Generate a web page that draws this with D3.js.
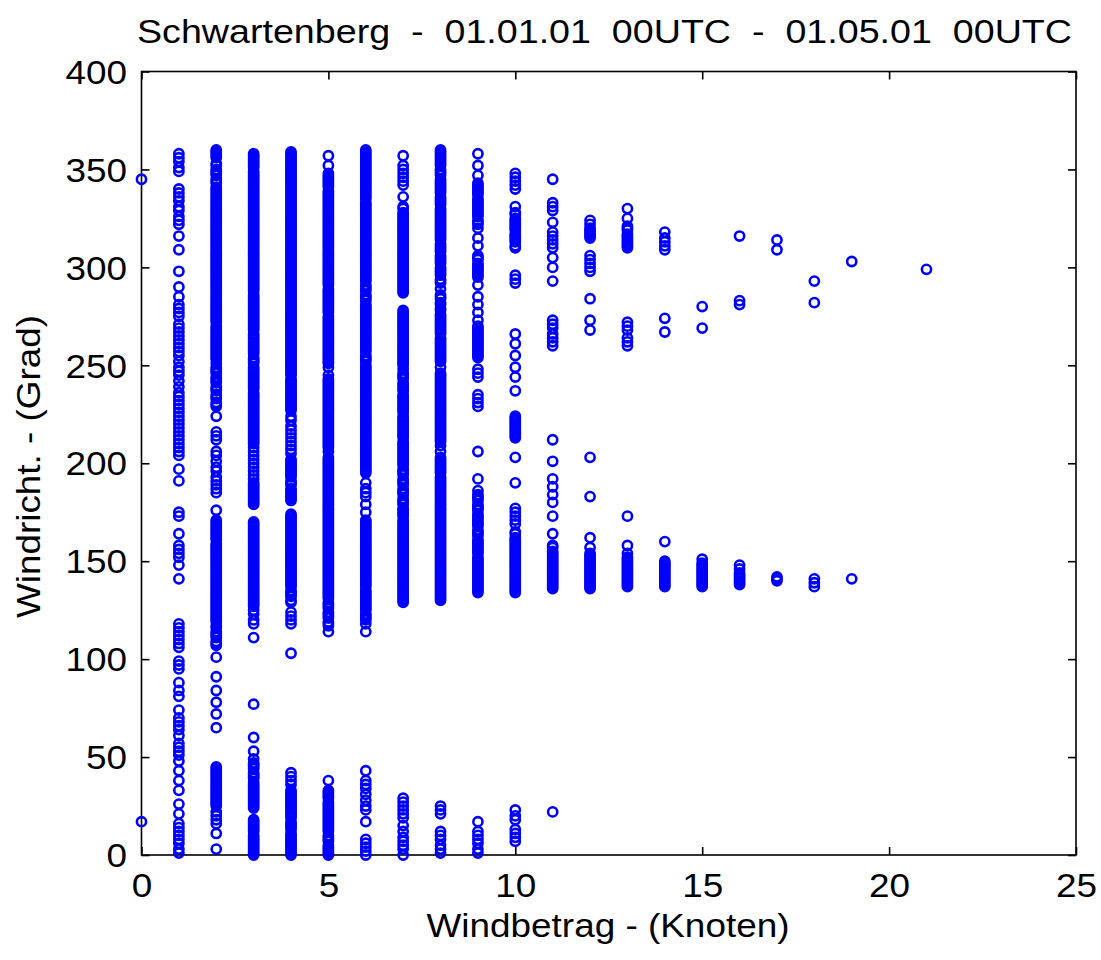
<!DOCTYPE html>
<html><head><meta charset="utf-8">
<script src="https://cdn.jsdelivr.net/npm/d3@7"></script>
<style>
html,body{margin:0;padding:0;background:#fff;}
svg{display:block;}
text{font-family:"Liberation Sans",Arial,Helvetica,sans-serif;fill:#000;}
</style>
</head><body>
<svg id="chart" width="1101" height="960"></svg>
<script>
const titleText = "Schwartenberg  -  01.01.01  00UTC  -  01.05.01  00UTC";
const xLabelText = "Windbetrag - (Knoten)";
const yLabelText = "Windricht. - (Grad)";
const xTicks = [0, 5, 10, 15, 20, 25];
const yTicks = [0, 50, 100, 150, 200, 250, 300, 350, 400];

// wind direction (deg) observed at each wind speed (knots)
const kn0 = [345, 17];
const kn1 = [358,356,354,351,349,340,338,336,334,331,329,326,324,322,316,309,298,290,285,281,279,277,275,271,269,267,265,263,261,259,257,255,252,249,247,245,242,239,236,234,232,230,228,226,224,222,220,218,216,214,212,210,208,206,204,197,191,175,173,164,158,156,154,152,148,141,118,116,114,112,110,108,106,99,97,95,88,84,81,74,70,68,66,64,61,57,55,53,51,48,43,38,33,26,21,16,14,12,10,8,6,3,1];
const kn2 = [360,359,358,357,356,
353,352,350,349,348,347,345,344,343,341,340,339,338,337,336,335,334,333,332,331,330,329,328,327,326,325,324,323,322,321,320,319,318,317,316,315,314,313,312,311,310,309,308,307,306,305,304,303,302,301,300,299,298,297,296,295,294,293,292,291,290,289,288,287,286,285,284,283,282,281,280,279,278,277,276,275,274,273,272,270,269,268,267,266,265,264,263,262,261,260,259,258,257,256,255,254,253,251,249,248,247,246,244,243,242,241,239,238,237,235,234,233,231,230,229,
224,216,214,212,206,204,201,198,196,193,191,189,187,185,176,
171,170,169,168,167,166,165,164,163,162,161,159,158,157,156,155,154,153,152,151,150,149,148,147,146,145,144,143,142,141,140,139,138,137,136,135,134,133,132,131,130,129,128,127,126,125,124,123,122,121,120,119,117,116,114,113,112,111,109,108,107,
101,91,84,78,72,65,
45,44,43,42,41,40,39,38,37,36,35,34,33,32,31,30,29,28,27,26,25,
22,20,18,16,11,3];
const kn3 = [358,357,356,355,354,353,352,351,349,348,347,346,345,344,343,342,341,340,339,338,337,336,335,334,333,332,331,330,329,328,327,326,325,324,323,322,321,320,319,318,317,316,315,314,313,312,311,310,309,308,307,306,305,304,303,302,301,300,299,298,297,296,295,294,293,292,291,290,289,288,286,285,284,283,282,281,280,279,278,277,276,275,274,273,272,271,270,269,268,
266,265,264,263,262,261,260,259,258,257,256,254,253,252,251,
249,248,247,246,245,244,243,242,241,240,239,238,236,235,234,233,232,231,230,229,228,227,226,225,224,223,222,221,220,219,218,217,216,215,214,213,212,211,
210,208,206,204,202,200,198,196,194,192,
190,189,188,187,186,185,184,183,182,181,180,179,
170,169,168,167,166,165,164,163,162,161,160,159,158,157,156,155,154,153,152,151,150,149,148,147,146,145,144,143,142,141,140,139,138,137,136,135,134,133,132,131,130,129,128,127,
125,123,120,118,111,77,60,53,
49,47,46,45,44,42,41,40,39,37,36,35,34,33,32,31,30,29,28,27,26,25,24,
18,17,16,15,14,13,12,10,9,8,7,6,5,4,3,2,1,0];
const kn4 = [359,358,357,356,355,354,353,352,351,350,349,348,347,346,345,344,343,342,341,340,339,338,337,336,335,334,333,332,331,330,329,328,327,326,325,324,323,322,321,320,319,318,317,316,315,314,313,312,311,310,309,308,307,306,305,304,303,302,301,300,299,298,297,296,295,294,293,292,291,290,289,288,287,286,285,284,283,282,281,280,279,278,277,276,275,274,273,272,271,270,269,268,267,266,265,264,263,262,261,260,259,258,257,256,255,254,253,252,251,250,249,248,247,246,245,243,242,241,240,239,238,237,236,235,234,233,232,231,230,229,228,227,
224,222,219,217,215,213,211,209,207,205,
202,201,200,199,198,197,196,195,194,193,191,190,189,187,186,185,184,183,182,181,
174,173,172,171,170,169,168,167,166,165,164,163,162,161,160,159,158,157,156,155,154,153,152,151,150,149,148,147,146,145,144,143,142,141,140,139,138,137,135,134,133,132,130,129,
124,122,120,118,103,42,40,38,36,
33,32,31,30,29,28,27,26,25,24,23,22,21,20,19,17,16,15,14,13,11,10,9,8,7,6,5,4,3,2,1,0];
const kn5 = [357,352,
348,347,346,345,344,343,342,341,339,338,337,336,335,334,333,332,331,330,329,328,327,326,325,324,323,322,321,320,319,318,317,316,315,314,313,312,311,310,309,308,307,306,305,304,303,302,301,300,299,298,297,296,295,294,293,292,291,289,288,287,286,285,284,283,282,281,280,279,278,277,275,274,273,272,271,270,269,268,267,266,265,264,263,262,261,260,259,258,257,256,255,254,253,252,251,
249,
245,243,242,241,240,239,238,237,236,235,234,233,232,231,230,229,228,227,226,225,224,223,222,221,220,219,218,217,216,215,214,213,212,211,210,209,208,206,
203,202,201,200,199,198,197,196,195,194,193,192,191,190,189,188,187,186,185,184,183,182,181,180,179,178,177,176,175,174,173,172,171,170,169,168,167,166,165,164,163,162,161,160,159,158,157,156,155,154,153,152,151,150,149,148,147,146,145,144,143,142,141,140,139,138,137,136,135,134,133,132,131,129,128,127,126,124,123,122,121,119,118,117,
114,38,
33,32,31,30,29,27,26,25,24,23,22,21,20,19,18,17,16,15,14,13,12,10,9,8,7,5,4,3,2,1,0];
const kn6 = [360,359,358,357,356,355,354,353,352,351,350,349,348,347,346,345,344,343,342,341,340,339,338,337,336,335,
333,332,331,330,329,328,327,326,325,324,323,322,321,320,319,318,317,316,315,314,313,312,311,310,309,308,307,306,305,304,303,302,301,300,299,298,297,296,295,294,293,291,290,289,288,286,285,284,283,281,280,279,278,277,276,275,274,273,272,271,270,269,268,267,266,265,264,263,262,261,260,259,258,257,255,254,253,252,250,249,248,247,246,245,244,243,242,241,240,239,238,237,236,235,234,233,232,231,230,229,228,227,226,225,224,223,222,221,220,219,218,217,216,215,214,213,212,211,210,209,208,207,206,205,204,203,202,201,200,199,198,197,196,195,
190,187,185,183,179,175,
171,170,169,168,167,166,165,164,163,162,161,160,159,158,157,156,155,154,153,152,151,150,149,148,147,146,145,144,143,142,141,140,139,138,137,135,134,133,132,131,130,129,128,127,126,125,123,122,121,120,
118,114,43,38,36,34,31,28,25,23,17,8,6,4,2,0];
const kn7 = [357,352,350,348,346,344,342,336,
331,330,328,327,326,325,324,323,322,321,320,319,318,317,316,315,314,313,312,311,310,309,308,307,306,305,304,303,302,301,300,299,298,297,296,295,294,293,292,291,290,289,288,287,
278,277,276,275,274,273,272,271,270,269,268,267,266,265,264,263,262,261,260,259,258,257,256,255,254,253,252,251,250,
248,246,245,244,243,241,240,239,238,237,235,234,233,232,231,230,229,228,227,226,224,223,222,221,220,219,218,217,216,215,214,213,211,210,209,208,207,206,205,204,203,202,201,200,199,197,196,195,194,192,191,190,189,187,186,185,184,182,181,180,179,177,176,175,174,173,171,170,169,168,167,166,165,164,163,162,161,160,159,158,157,156,155,154,153,152,151,150,149,148,147,146,145,144,143,142,141,140,139,138,137,136,135,134,133,132,131,130,129,
29,27,25,23,21,19,15,12,9,7,5,3,0];
const kn8 = [360,359,358,357,356,355,354,353,352,350,349,348,347,345,344,343,342,341,340,339,338,336,335,334,333,332,330,329,328,327,326,325,324,323,322,321,320,319,318,317,316,315,314,312,311,310,309,308,306,305,304,303,302,300,299,298,297,296,294,293,292,289,286,285,284,282,281,279,278,276,275,274,273,272,271,270,269,268,267,266,264,263,262,261,260,259,258,257,256,255,254,253,252,249,
246,245,244,243,242,241,240,239,238,237,236,235,234,233,232,231,230,229,228,227,226,225,224,223,222,221,220,219,218,217,216,215,214,213,212,211,209,206,
203,202,201,200,199,198,197,196,195,
193,192,191,190,189,188,187,186,185,184,183,182,181,180,179,178,177,176,175,174,173,172,171,170,169,168,167,166,165,164,163,162,161,160,159,158,157,156,155,154,153,152,151,150,149,148,147,146,145,144,143,142,141,140,139,138,137,136,135,134,133,132,131,130,
25,23,21,12,10,8,5,3,1];
const kn9 = [358,352,347,
343,342,341,340,339,338,337,335,334,333,332,331,330,329,328,327,326,324,323,322,
320,315,311,
306,305,304,302,301,300,299,298,297,296,295,
291,285,281,277,273,
270,269,268,267,266,265,264,263,262,261,260,259,258,257,256,255,254,
248,246,244,235,233,231,229,206,192,
186,184,183,182,181,179,178,177,176,174,173,172,171,170,169,168,166,165,164,163,161,160,159,158,157,156,155,154,152,151,150,149,148,147,146,145,144,143,142,141,140,139,138,137,136,135,134,
17,12,10,8,6,3,1];
const kn10 = [348,346,344,342,340,331,328,327,325,324,323,322,321,320,319,317,316,315,314,313,311,310,296,294,292,266,261,255,249,244,237,224,223,222,221,220,219,218,217,216,215,214,213,203,190,177,175,173,171,169,165,164,162,161,160,159,158,157,156,155,154,153,152,151,150,149,148,147,146,145,144,143,142,141,140,139,138,137,136,135,134,23,20,18,13,11,9,7];
const kn11 = [345,333,331,329,323,318,316,314,312,310,305,300,293,273,271,269,266,264,262,260,212,201,192,188,184,180,173,164,158,157,155,154,153,152,151,150,149,148,147,146,145,144,143,142,141,140,139,138,137,136,22];
const kn12 = [324,322,320,319,318,317,316,315,306,304,302,300,298,284,273,268,203,183,162,157,154,153,152,151,150,149,148,147,146,145,144,143,142,141,140,139,138,137,136];
const kn13 = [330,325,321,320,319,317,316,315,314,313,312,311,310,272,270,268,264,262,260,173,158,154,152,151,150,149,148,147,146,145,144,143,142,141,140,139,138,137];
const kn14 = [318,315,313,311,309,274,267,160,150,149,148,147,146,145,144,143,142,141,140,139,138,137];
const kn15 = [280,269,151,149,148,147,146,145,144,143,142,141,140,139,138,137];
const kn16 = [316,283,281,148,146,144,143,142,141,140,139,138];
const kn17 = [314,309,142,141,140];
const kn18 = [293,282,141,139,137];
const kn19 = [303,141];
const kn21 = [299];

const speeds = [0,1,2,3,4,5,6,7,8,9,10,11,12,13,14,15,16,17,18,19,21];
const dirLists = [kn0,kn1,kn2,kn3,kn4,kn5,kn6,kn7,kn8,kn9,kn10,kn11,kn12,kn13,kn14,kn15,kn16,kn17,kn18,kn19,kn21];
const points = [];
speeds.forEach((s, i) => dirLists[i].forEach(d => points.push({speed: s, dir: d})));

const X0 = 141.5, X1 = 1076, Y0 = 855, Y1 = 71.5;
const FS = 34, STRETCH = 1.085;
const x = d3.scaleLinear().domain([0, 25]).range([X0, X1]);
const y = d3.scaleLinear().domain([0, 400]).range([Y0, Y1]);

const svg = d3.select("#chart");
svg.append("rect").attr("width", 1101).attr("height", 960).attr("fill", "#fff");

function stretch(sel) {
  sel.each(function() {
    const L = this.getComputedTextLength();
    if (L > 0) {
      d3.select(this).attr("textLength", L * STRETCH).attr("lengthAdjust", "spacingAndGlyphs");
    }
  });
}

const TK = 8;
const gx = svg.append("g").attr("transform", `translate(0,${Y0})`)
  .call(d3.axisBottom(x).tickValues(xTicks).tickSizeInner(-TK).tickSizeOuter(0).tickPadding(18).tickFormat(d3.format("d")));
const gxt = svg.append("g").attr("transform", `translate(0,${Y1})`)
  .call(d3.axisTop(x).tickValues(xTicks).tickSizeInner(-TK).tickSizeOuter(0).tickFormat(""));
const gy = svg.append("g").attr("transform", `translate(${X0},0)`)
  .call(d3.axisLeft(y).tickValues(yTicks).tickSizeInner(-TK).tickSizeOuter(0).tickPadding(14.5).tickFormat(d3.format("d")));
const gyr = svg.append("g").attr("transform", `translate(${X1},0)`)
  .call(d3.axisRight(y).tickValues(yTicks).tickSizeInner(-TK).tickSizeOuter(0).tickFormat(""));

[gx, gxt, gy, gyr].forEach(g => {
  g.select(".domain").remove();
  g.selectAll(".tick line").attr("stroke", "#000").attr("stroke-width", 1.6);
  g.selectAll("text").attr("font-size", FS).attr("font-family", "'Liberation Sans', Arial, sans-serif").attr("fill", "#000");
});
gy.selectAll(".tick text").attr("dy", "0.345em");
stretch(gx.selectAll(".tick text"));
stretch(gy.selectAll(".tick text"));

svg.append("rect")
  .attr("x", X0).attr("y", Y1).attr("width", X1 - X0).attr("height", Y0 - Y1)
  .attr("fill", "none").attr("stroke", "#000").attr("stroke-width", 1.6);

svg.append("g").selectAll("circle").data(points).join("circle")
  .attr("cx", d => x(d.speed))
  .attr("cy", d => y(d.dir))
  .attr("r", 4.6)
  .attr("fill", "none")
  .attr("stroke", "#0000ff")
  .attr("stroke-width", 2.6);

svg.append("text")
  .attr("x", 604.5).attr("y", 43)
  .attr("text-anchor", "middle")
  .attr("font-size", FS)
  .attr("textLength", 935).attr("lengthAdjust", "spacingAndGlyphs")
  .style("white-space", "pre")
  .text(titleText);

svg.append("text")
  .attr("x", 608).attr("y", 937)
  .attr("text-anchor", "middle")
  .attr("font-size", FS)
  .attr("textLength", 363).attr("lengthAdjust", "spacingAndGlyphs")
  .text(xLabelText);

svg.append("text")
  .attr("transform", `translate(40,466.5) rotate(-90)`)
  .attr("text-anchor", "middle")
  .attr("font-size", FS)
  .attr("textLength", 303).attr("lengthAdjust", "spacingAndGlyphs")
  .text(yLabelText);
</script>
</body></html>
